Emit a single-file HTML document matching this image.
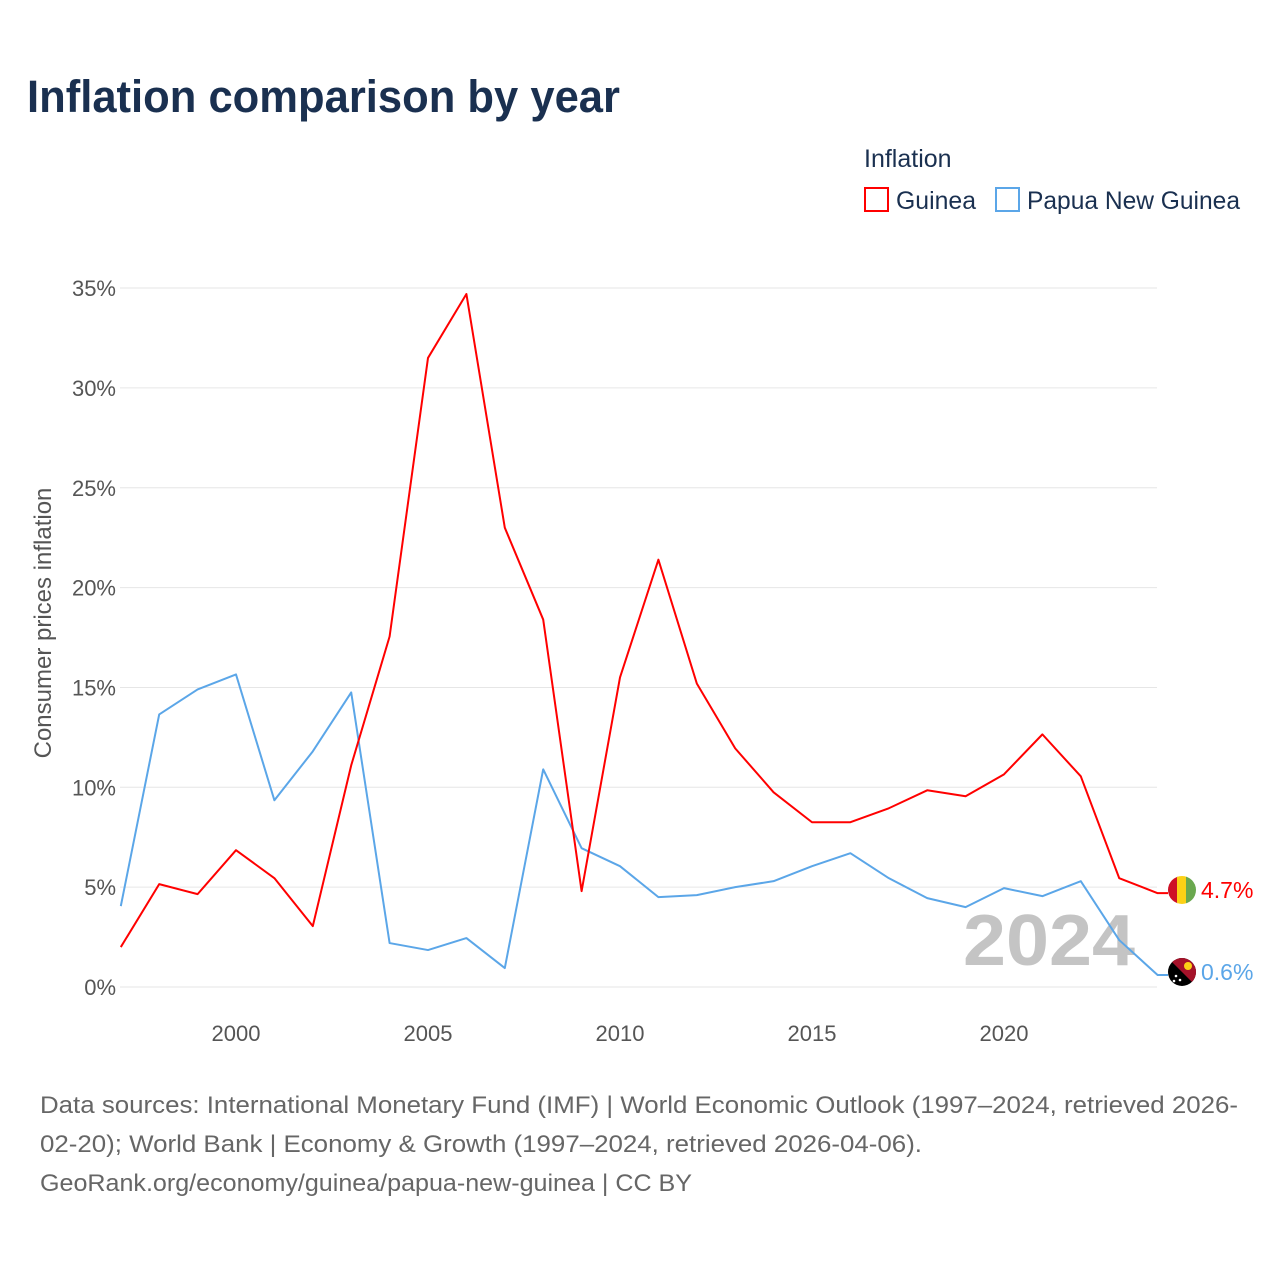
<!DOCTYPE html>
<html><head><meta charset="utf-8"><style>
body{margin:0;background:#fff;font-family:"Liberation Sans",sans-serif;}
svg text{font-family:"Liberation Sans",sans-serif;}
</style></head><body>
<svg width="1280" height="1280" xmlns="http://www.w3.org/2000/svg">
<rect width="1280" height="1280" fill="#fff"/>
<text x="27" y="112" font-size="45" font-weight="bold" fill="#1a3050" textLength="593" lengthAdjust="spacingAndGlyphs">Inflation comparison by year</text>
<text x="864" y="167" font-size="25" fill="#1a3050">Inflation</text>
<g><rect x="865" y="188" width="23" height="23" fill="none" stroke="#f00" stroke-width="2"/><text x="896" y="209" font-size="25" fill="#1a3050" textLength="80" lengthAdjust="spacingAndGlyphs">Guinea</text></g>
<g><rect x="996" y="188" width="23" height="23" fill="none" stroke="#5ba6e8" stroke-width="2"/><text x="1027" y="209" font-size="25" fill="#1a3050" textLength="213" lengthAdjust="spacingAndGlyphs">Papua New Guinea</text></g>
<g id="grid"></g><g id="yt"></g><g id="xt"></g>
<text transform="translate(51,623) rotate(-90)" text-anchor="middle" font-size="24" fill="#555">Consumer prices inflation</text>
<text x="963" y="965" font-size="72" font-weight="bold" fill="#c4c4c4" textLength="172" lengthAdjust="spacingAndGlyphs">2024</text>
<g id="series"></g>
<g><clipPath id="cg"><circle cx="1182" cy="890" r="14"/></clipPath><g clip-path="url(#cg)"><rect x="1168" y="876" width="10" height="28" fill="#ce1126"/><rect x="1177" y="876" width="10" height="28" fill="#fcd116"/><rect x="1186" y="876" width="10" height="28" fill="#6aa84f"/></g></g>
<g><clipPath id="cp"><circle cx="1182" cy="972" r="14"/></clipPath><g clip-path="url(#cp)"><rect x="1168" y="958" width="28" height="28" fill="#000"/><polygon points="1168,958 1196,958 1196,986" fill="#a5122a"/><circle cx="1188" cy="966" r="4" fill="#fcd116"/><circle cx="1176" cy="976" r="1.3" fill="#fff"/><circle cx="1180" cy="980" r="1.3" fill="#fff"/><circle cx="1174" cy="981" r="1.3" fill="#fff"/></g></g>
<text x="1201" y="898" font-size="23" fill="#f00">4.7%</text>
<text x="1201" y="980" font-size="23" fill="#5ba6e8">0.6%</text>
<g font-size="24" fill="#666">
<text x="40" y="1113" textLength="1198" lengthAdjust="spacingAndGlyphs">Data sources: International Monetary Fund (IMF) | World Economic Outlook (1997–2024, retrieved 2026-</text>
<text x="40" y="1152" textLength="882" lengthAdjust="spacingAndGlyphs">02-20); World Bank | Economy &amp; Growth (1997–2024, retrieved 2026-04-06).</text>
<text x="40" y="1191" textLength="652" lengthAdjust="spacingAndGlyphs">GeoRank.org/economy/guinea/papua-new-guinea | CC BY</text>
</g>
</svg>
<script>
const years=[1997,1998,1999,2000,2001,2002,2003,2004,2005,2006,2007,2008,2009,2010,2011,2012,2013,2014,2015,2016,2017,2018,2019,2020,2021,2022,2023,2024];
const guinea=[2.0,5.15,4.65,6.85,5.45,3.05,11.1,17.55,31.5,34.7,23.0,18.4,4.8,15.5,21.4,15.2,11.95,9.75,8.25,8.25,8.95,9.85,9.55,10.65,12.65,10.55,5.45,4.7];
const png=[4.05,13.65,14.9,15.65,9.35,11.8,14.75,2.2,1.85,2.45,0.95,10.9,6.95,6.05,4.5,4.6,5.0,5.3,6.05,6.7,5.45,4.45,4.0,4.95,4.55,5.3,2.35,0.6];
const yTicks=[0,5,10,15,20,25,30,35];
const xTicks=[2000,2005,2010,2015,2020];
const NS="http://www.w3.org/2000/svg";
function X(v){return 120.8+(v-1997)*38.4;}
function Y(v){return 987-v*19.97;}
function mk(t,a,p){const e=document.createElementNS(NS,t);for(const k in a)e.setAttribute(k,a[k]);document.getElementById(p).appendChild(e);return e;}
yTicks.forEach(t=>{
 const l=mk('line',{x1:120,x2:1157,y1:Y(t),y2:Y(t),stroke:'#e6e6e6','stroke-width':1},'grid');
 
 
 const tx=mk('text',{x:116,y:Y(t)+8,'text-anchor':'end','font-size':22,fill:'#555'},'yt');
 tx.textContent=t+'%';
 
 
});
xTicks.forEach(t=>{
 const tx=mk('text',{x:X(t),y:1041,'text-anchor':'middle','font-size':22,fill:'#555'},'xt');
 tx.textContent=t;
 
 
});
function line(vals,col,name){
 const d=vals.map((v,i)=>(i?'L':'M')+X(years[i])+','+Y(v)).join(' ')+' L1168,'+Y(vals[vals.length-1]);
 const p=mk('path',{d:d,fill:'none',stroke:col,'stroke-width':2,'stroke-linejoin':'round'},'series');
 
 
}
line(png,'#5ba6e8','series-line-png');
line(guinea,'#f00','series-line-guinea');
</script>
</body></html>
